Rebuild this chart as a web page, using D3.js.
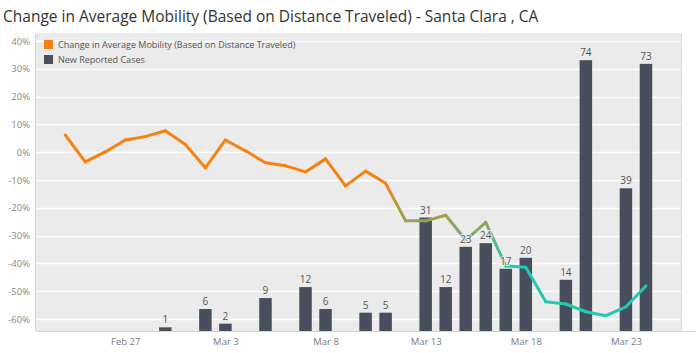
<!DOCTYPE html>
<html>
<head>
<meta charset="utf-8">
<script src="https://cdn.jsdelivr.net/npm/d3@7"></script>
<style>
  body { margin: 0; background: #fff; }
  svg { display: block; font-family: "Open Sans", sans-serif; }
</style>
</head>
<body>
<script>
// mobility change (%) per day, Feb 24 .. Mar 24, 2020
var mobilityStart = "2020-02-24";
var mobility = [6.2, -3.5, 0.1, 4.4, 5.6, 7.7, 2.8, -5.6, 4.4, 0.5,
                -3.8, -4.9, -7.1, -2.4, -12.1, -6.8, -11.2, -24.7, -24.7, -22.7,
                -31.6, -25.2, -40.9, -41.4, -53.8, -54.6, -57.4, -58.8, -55.6, -48.1];

// new reported cases
var caseDates = ["2020-02-29", "2020-03-02", "2020-03-03", "2020-03-05", "2020-03-07", "2020-03-08",
                 "2020-03-10", "2020-03-11", "2020-03-13", "2020-03-14", "2020-03-15", "2020-03-16",
                 "2020-03-17", "2020-03-18", "2020-03-20", "2020-03-21", "2020-03-23", "2020-03-24"];
var cases = [1, 6, 2, 9, 12, 6, 5, 5, 31, 12, 23, 24, 17, 20, 14, 74, 39, 73];

var yTicks = [40, 30, 20, 10, 0, -10, -20, -30, -40, -50, -60];
var xTickDates = ["2020-02-27", "2020-03-03", "2020-03-08", "2020-03-13", "2020-03-18", "2020-03-23"];
var legendLabels = ["Change in Average Mobility (Based on Distance Traveled)", "New Reported Cases"];

function init(){
    var w = 700, h = 353;
    var pLeft = 36, pRight = 681, pTop = 33, pBottom = 331; // plot area

    var parse = d3.utcParse("%Y-%m-%d");
    var day0 = parse(mobilityStart);
    var lineData = mobility.map(function(v, i){
        return {date: d3.utcDay.offset(day0, i), value: v};
    });
    var barData = cases.map(function(c, i){
        return {date: parse(caseDates[i]), value: c};
    });

    var svg = d3.select("body").append("svg")
        .attr("width", w)
        .attr("height", h);

    // x: one day is 20px, Feb 24 sits ~1.5 days in from the left edge
    var xScale = d3.scaleUtc()
        .domain([d3.utcHour.offset(day0, -35), d3.utcHour.offset(parse("2020-03-24"), 42)])
        .range([pLeft, pRight]);

    var yScale = d3.scaleLinear() // mobility %
        .domain([-60, 40])
        .range([319, 41]);

    var cScale = d3.scaleLinear() // cases, hidden axis
        .domain([0, 81.7])
        .range([pBottom, pTop - 1]);

    var colorScale = d3.scaleLinear()
        .domain([-12, -41])
        .range(["#f5820f", "#20cbb2"])
        .clamp(true);

    // title
    svg.append("text")
        .attr("x", 3)
        .attr("y", 22)
        .attr("font-size", "15.5px")
        .attr("fill", "#333")
        .text("Change in Average Mobility (Based on Distance Traveled) - Santa Clara , CA");

    // plot background
    svg.append("rect")
        .attr("x", pLeft)
        .attr("y", pTop)
        .attr("width", pRight - pLeft)
        .attr("height", pBottom - pTop)
        .attr("fill", "#ebebeb");

    // gridlines
    svg.append("g")
        .selectAll("line")
        .data(yTicks)
        .enter()
        .append("line")
        .attr("x1", pLeft)
        .attr("x2", pRight)
        .attr("y1", function(d){ return Math.round(yScale(d)) + 0.5; })
        .attr("y2", function(d){ return Math.round(yScale(d)) + 0.5; })
        .attr("stroke", "#fff")
        .attr("stroke-width", 1.5);

    // frame lines
    svg.append("line")
        .attr("x1", pLeft - 0.5).attr("x2", pLeft - 0.5)
        .attr("y1", pTop).attr("y2", pBottom)
        .attr("stroke", "#d6d6d6");
    svg.append("line")
        .attr("x1", pLeft).attr("x2", pRight + 15)
        .attr("y1", pBottom + 0.5).attr("y2", pBottom + 0.5)
        .attr("stroke", "#d6d6d6");
    svg.append("line")
        .attr("x1", pRight + 0.5).attr("x2", pRight + 0.5)
        .attr("y1", pTop).attr("y2", pBottom)
        .attr("stroke", "#d9d9d9");

    // y axis (labels only)
    var yAxis = d3.axisLeft(yScale)
        .tickValues(yTicks)
        .tickSize(0)
        .tickPadding(0)
        .tickFormat(function(d){ return d + "%"; });

    var yG = svg.append("g")
        .attr("transform", "translate(" + 30 + ",0)")
        .call(yAxis);
    yG.select(".domain").remove();
    yG.selectAll("text")
        .attr("fill", "#8a8a8a")
        .attr("font-size", "9.5px")
        .attr("font-family", "Open Sans, sans-serif");

    // x axis (labels only)
    var xAxis = d3.axisBottom(xScale)
        .tickValues(xTickDates.map(parse))
        .tickSize(0)
        .tickPadding(7)
        .tickFormat(d3.utcFormat("%b %-d"));

    var xG = svg.append("g")
        .attr("transform", "translate(0," + pBottom + ")")
        .call(xAxis);
    xG.select(".domain").remove();
    xG.selectAll("text")
        .attr("fill", "#7a7a7a")
        .attr("font-size", "9.5px")
        .attr("font-family", "Open Sans, sans-serif");

    // bars
    var barW = 12.5;
    svg.append("g")
        .selectAll("rect")
        .data(barData)
        .enter()
        .append("rect")
        .attr("x", function(d){ return xScale(d.date) - barW / 2; })
        .attr("y", function(d){ return cScale(d.value); })
        .attr("width", barW)
        .attr("height", function(d){ return pBottom - cScale(d.value); })
        .attr("fill", "#464f5b");

    // mobility line, each segment gets its own gradient
    var defs = svg.append("defs");
    var segs = d3.pairs(lineData);
    segs.forEach(function(p, i){
        var g = defs.append("linearGradient")
            .attr("id", "seg" + i)
            .attr("gradientUnits", "userSpaceOnUse")
            .attr("x1", xScale(p[0].date)).attr("y1", yScale(p[0].value))
            .attr("x2", xScale(p[1].date)).attr("y2", yScale(p[1].value));
        g.append("stop").attr("offset", "0%").attr("stop-color", colorScale(p[0].value));
        g.append("stop").attr("offset", "100%").attr("stop-color", colorScale(p[1].value));
    });

    svg.append("g")
        .selectAll("line")
        .data(segs)
        .enter()
        .append("line")
        .attr("x1", function(d){ return xScale(d[0].date); })
        .attr("y1", function(d){ return yScale(d[0].value); })
        .attr("x2", function(d){ return xScale(d[1].date); })
        .attr("y2", function(d){ return yScale(d[1].value); })
        .attr("stroke", function(d, i){ return "url(#seg" + i + ")"; })
        .attr("stroke-width", 3)
        .attr("stroke-linecap", "round");

    // bar labels
    svg.append("g")
        .selectAll("text")
        .data(barData)
        .enter()
        .append("text")
        .attr("x", function(d){ return xScale(d.date); })
        .attr("y", function(d){ return cScale(d.value) - 4; })
        .attr("text-anchor", "middle")
        .attr("font-size", "10px")
        .attr("fill", "#555")
        .attr("stroke", "#ebebeb")
        .attr("stroke-width", 2)
        .attr("paint-order", "stroke")
        .text(function(d){ return d.value; });

    // legend
    var legendColors = ["#f5820f", "#464f5b"];
    var legend = svg.append("g");
    legendLabels.forEach(function(t, i){
        legend.append("rect")
            .attr("x", 44)
            .attr("y", 40 + i * 15)
            .attr("width", 9)
            .attr("height", 9)
            .attr("fill", legendColors[i]);
        legend.append("text")
            .attr("x", 58)
            .attr("y", 48 + i * 15)
            .attr("font-size", "9px")
            .attr("fill", "#555")
            .text(t);
    });
}
window.onload = init;
</script>
</body>
</html>
